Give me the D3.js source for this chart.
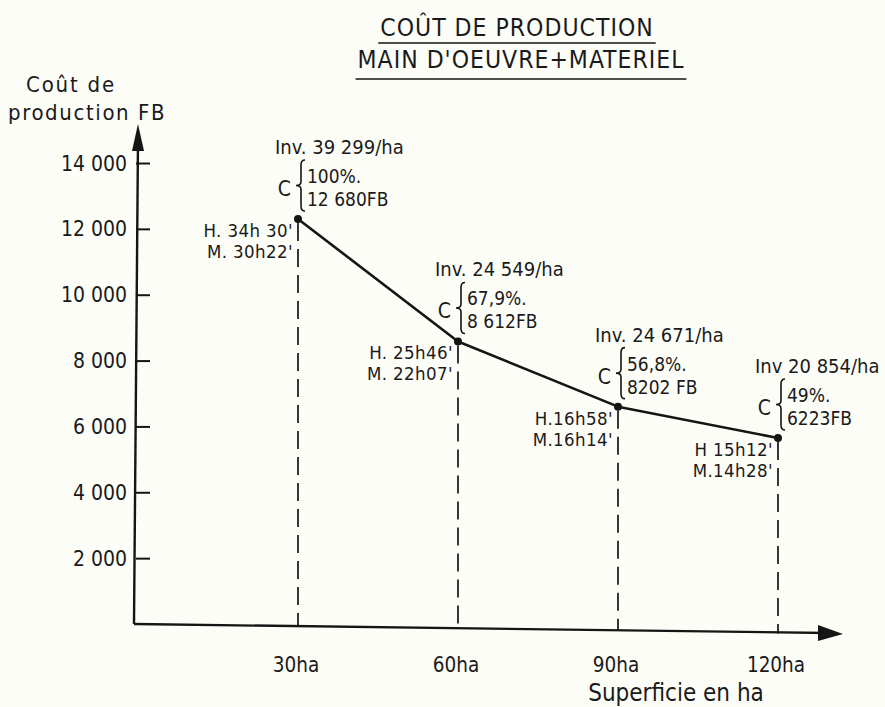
<!DOCTYPE html>
<html><head><meta charset="utf-8">
<script src="https://cdn.jsdelivr.net/npm/d3@7"></script>
<style>
html,body{margin:0;padding:0;background:#fdfdf8;}
svg{display:block;}
text{font-family:"DejaVu Sans Condensed","Liberation Sans Narrow","DejaVu Sans",sans-serif;fill:#1a1a1a;}
</style></head>
<body>
<script>
// ---- data ----
const superficie = [30, 60, 90, 120];
const xTickLabels = ["30ha", "60ha", "90ha", "120ha"];
const coutTrace = [12300, 8580, 6600, 5650];
const yTicks = [2000, 4000, 6000, 8000, 10000, 12000, 14000];
const yTickLabels = ["2 000", "4 000", "6 000", "8 000", "10 000", "12 000", "14 000"];
const invLabels = ["Inv. 39 299/ha", "Inv. 24 549/ha", "Inv. 24 671/ha", "Inv 20 854/ha"];
const pctLabels = ["100%.", "67,9%.", "56,8%.", "49%."];
const fbLabels = ["12 680FB", "8 612FB", "8202 FB", "6223FB"];
const hLabels = ["H. 34h 30'", "H. 25h46'", "H.16h58'", "H 15h12'"];
const mLabels = ["M. 30h22'", "M. 22h07'", "M.16h14'", "M.14h28'"];
const titleLines = ["COÛT DE PRODUCTION", "MAIN D'OEUVRE+MATERIEL"];

const W = 885, H = 707;
const ink = "#151515";
const svg = d3.select("body").append("svg").attr("width", W).attr("height", H);

const x = d3.scaleLinear().domain([0, 120]).range([138, 778]);
const y = d3.scaleLinear().domain([0, 14000]).range([624, 163]);

// title
const titleCx = [517, 521], titleBase = [36, 68], titleUl = [43, 79];
titleLines.forEach((t, i) => {
  const tx = svg.append("text").attr("x", titleCx[i]).attr("y", titleBase[i])
    .attr("text-anchor", "middle").attr("font-size", 24.5).attr("letter-spacing", 1).text(t);
  const w = tx.node().getComputedTextLength();
  svg.append("line").attr("x1", titleCx[i] - w / 2 - 2).attr("x2", titleCx[i] + w / 2 + 2)
    .attr("y1", titleUl[i]).attr("y2", titleUl[i]).attr("stroke", ink).attr("stroke-width", 1.6);
});

// y axis label
svg.append("text").attr("x", 26).attr("y", 92).attr("font-size", 22).attr("letter-spacing", 1.8).text("Coût de");
svg.append("text").attr("x", 8).attr("y", 120).attr("font-size", 22).attr("letter-spacing", 1.6).text("production FB");

// axes lines
const xb = x(0) - 4, xt = x(0);
svg.append("line").attr("x1", xb).attr("x2", xt).attr("y1", y(0)).attr("y2", 140)
  .attr("stroke", ink).attr("stroke-width", 2.4);
svg.append("path").attr("d", `M${xt},124 L${xt - 6},151 L${xt + 6},151 Z`).attr("fill", ink);
svg.append("line").attr("x1", xb).attr("x2", 828).attr("y1", y(0)).attr("y2", y(0) + 9)
  .attr("stroke", ink).attr("stroke-width", 2.4);
svg.append("path").attr("d", `M843,${y(0) + 10} L818,${y(0) + 1} L818,${y(0) + 17} Z`).attr("fill", ink);

// y ticks
const yAxis = d3.axisRight(y).tickValues(yTicks).tickSize(14).tickFormat("");
const ga = svg.append("g").attr("transform", `translate(${xb + 2},0)`).call(yAxis);
ga.select(".domain").remove();
ga.selectAll(".tick line").attr("stroke", ink).attr("stroke-width", 2);
yTicks.forEach((v, i) => {
  svg.append("text").attr("x", 127).attr("y", y(v) + 7.5).attr("text-anchor", "end")
    .attr("font-size", 21).text(yTickLabels[i]);
});

// x tick labels
superficie.forEach((v, i) => {
  svg.append("text").attr("x", x(v) - 2).attr("y", 672).attr("text-anchor", "middle")
    .attr("font-size", 20.5).text(xTickLabels[i]);
});
svg.append("text").attr("x", 676).attr("y", 701).attr("text-anchor", "middle").attr("font-size", 24).text("Superficie en ha");

// dashed drop lines
superficie.forEach((v, i) => {
  svg.append("line").attr("x1", x(v)).attr("x2", x(v)).attr("y1", y(coutTrace[i]) + 4).attr("y2", y(0) + 2 + i * 2.5)
    .attr("stroke", ink).attr("stroke-width", 1.7).attr("stroke-dasharray", "18,8");
});

// curve
const line = d3.line().x((d, i) => x(superficie[i])).y(d => y(d)).curve(d3.curveLinear);
svg.append("path").datum(coutTrace).attr("d", line).attr("fill", "none")
  .attr("stroke", ink).attr("stroke-width", 2.6).attr("stroke-linejoin", "round");

// points
superficie.forEach((v, i) => {
  svg.append("circle").attr("cx", x(v)).attr("cy", y(coutTrace[i])).attr("r", 4).attr("fill", ink);
});

// brace
function brace(bx, y0, y1) {
  const ym = (y0 + y1) / 2;
  return `M${bx + 4},${y0} Q${bx},${y0} ${bx},${y0 + 5} L${bx},${ym - 4} Q${bx},${ym} ${bx - 5},${ym}` +
    ` Q${bx},${ym} ${bx},${ym + 4} L${bx},${y1 - 5} Q${bx},${y1} ${bx + 4},${y1}`;
}

// annotations
superficie.forEach((v, i) => {
  const px = x(v), py = y(coutTrace[i]);
  svg.append("text").attr("x", px - 23).attr("y", py - 65).attr("font-size", 20).text(invLabels[i]);
  svg.append("text").attr("x", px - 7).attr("y", py - 23).attr("text-anchor", "end").attr("font-size", 21).text("C");
  svg.append("path").attr("d", brace(px + 3, py - 59, py - 8)).attr("fill", "none")
    .attr("stroke", ink).attr("stroke-width", 1.6);
  svg.append("text").attr("x", px + 9).attr("y", py - 36).attr("font-size", 19).text(pctLabels[i]);
  svg.append("text").attr("x", px + 9).attr("y", py - 13).attr("font-size", 19).text(fbLabels[i]);
  svg.append("text").attr("x", px - 5).attr("y", py + 18).attr("text-anchor", "end").attr("font-size", 18.5)
    .attr("letter-spacing", 0.4).text(hLabels[i]);
  svg.append("text").attr("x", px - 5).attr("y", py + 39).attr("text-anchor", "end").attr("font-size", 18.5)
    .attr("letter-spacing", 0.4).text(mLabels[i]);
});
</script>
</body></html>
